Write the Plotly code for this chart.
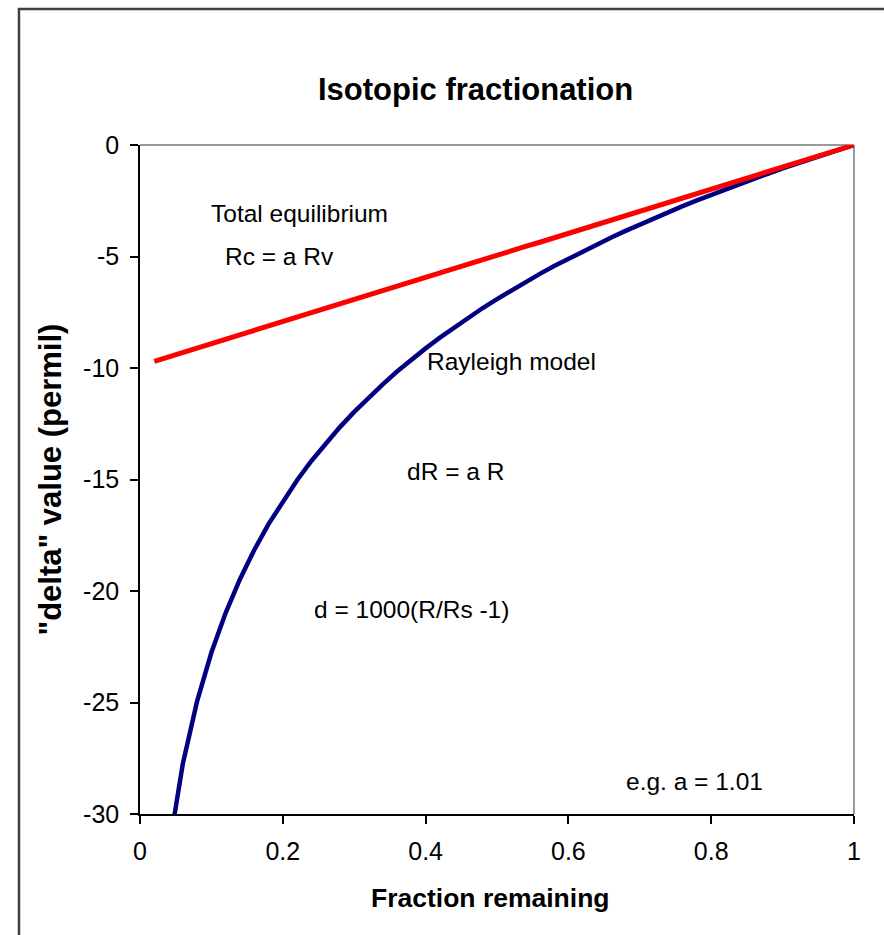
import plotly.graph_objects as go

# Fraction remaining (x) values
fraction = [0.02, 0.04, 0.06, 0.08, 0.10, 0.12, 0.14, 0.16, 0.18, 0.20,
            0.22, 0.24, 0.26, 0.28, 0.30, 0.32, 0.34, 0.36, 0.38, 0.40,
            0.42, 0.44, 0.46, 0.48, 0.50, 0.52, 0.54, 0.56, 0.58, 0.60,
            0.62, 0.64, 0.66, 0.68, 0.70, 0.72, 0.74, 0.76, 0.78, 0.80,
            0.82, 0.84, 0.86, 0.88, 0.90, 0.92, 0.94, 0.96, 0.98, 1.00]

# Rayleigh model delta values (permil)
rayleigh = [-38.36, -31.68, -27.74, -24.94, -22.76, -20.98, -19.47, -18.16, -17.00, -15.97,
            -15.03, -14.17, -13.38, -12.65, -11.97, -11.33, -10.73, -10.16, -9.63, -9.12,
            -8.64, -8.18, -7.74, -7.31, -6.91, -6.52, -6.14, -5.78, -5.43, -5.10,
            -4.77, -4.45, -4.15, -3.85, -3.56, -3.28, -3.01, -2.74, -2.48, -2.23,
            -1.98, -1.74, -1.51, -1.28, -1.05, -0.83, -0.62, -0.41, -0.20, 0.0]

# Total equilibrium delta values (permil)
equilibrium = [-9.70, -9.50, -9.31, -9.11, -8.91, -8.71, -8.51, -8.32, -8.12, -7.92,
               -7.72, -7.52, -7.33, -7.13, -6.93, -6.73, -6.53, -6.34, -6.14, -5.94,
               -5.74, -5.54, -5.35, -5.15, -4.95, -4.75, -4.55, -4.36, -4.16, -3.96,
               -3.76, -3.56, -3.37, -3.17, -2.97, -2.77, -2.57, -2.38, -2.18, -1.98,
               -1.78, -1.58, -1.39, -1.19, -0.99, -0.79, -0.59, -0.40, -0.20, 0.0]

x_ticks = [0, 0.2, 0.4, 0.6, 0.8, 1]
x_tick_labels = ["0", "0.2", "0.4", "0.6", "0.8", "1"]
y_ticks = [0, -5, -10, -15, -20, -25, -30]
y_tick_labels = ["0", "-5", "-10", "-15", "-20", "-25", "-30"]

notes = ["Total equilibrium", "Rc = a Rv", "Rayleigh model", "dR = a R",
         "d = 1000(R/Rs -1)", "e.g. a = 1.01"]
note_x = [0.2234, 0.196, 0.520, 0.442, 0.380, 0.776]
note_y = [-3.05, -4.98, -9.7, -14.64, -20.83, -28.56]

FONT = "Liberation Sans, Arial, sans-serif"

fig = go.Figure()
fig.add_trace(go.Scatter(x=fraction, y=rayleigh, mode="lines",
                         line=dict(color="#000080", width=4.5),
                         name="Rayleigh model", showlegend=False))
fig.add_trace(go.Scatter(x=fraction, y=equilibrium, mode="lines",
                         line=dict(color="#FF0000", width=5),
                         name="Total equilibrium", showlegend=False))

for t, xx, yy in zip(notes, note_x, note_y):
    fig.add_annotation(x=xx, y=yy, xref="x", yref="y", text=t, showarrow=False,
                       font=dict(family=FONT, size=24.5, color="black"),
                       xanchor="center", yanchor="middle")

# Title
fig.add_annotation(x=0.47, y=1.0837, xref="paper", yref="paper",
                   text="<b>Isotopic fractionation</b>", showarrow=False,
                   font=dict(family=FONT, size=31, color="black"),
                   xanchor="center", yanchor="middle")
# Axis titles
fig.add_annotation(x=0.4915, y=-0.1256, xref="paper", yref="paper",
                   text="<b>Fraction remaining</b>", showarrow=False,
                   font=dict(family=FONT, size=26.5, color="black"),
                   xanchor="center", yanchor="middle")
fig.add_annotation(x=-0.126, y=0.5, xref="paper", yref="paper",
                   text="<b>\"delta\" value (permil)</b>", showarrow=False,
                   textangle=-90,
                   font=dict(family=FONT, size=31, color="black"),
                   xanchor="center", yanchor="middle")

# Outer chart frame
fig.add_shape(type="rect", xref="paper", yref="paper",
              x0=-0.1695, x1=1.3, y0=-0.4, y1=1.2033,
              line=dict(color="#404040", width=2.5), layer="below")
# Top and right plot-area border (gray)
fig.add_shape(type="line", xref="paper", yref="paper", x0=0, x1=1, y0=1, y1=1,
              line=dict(color="#999999", width=2), layer="below")
fig.add_shape(type="line", xref="paper", yref="paper", x0=1, x1=1, y0=0, y1=1,
              line=dict(color="#999999", width=2), layer="below")

fig.update_layout(
    width=884, height=935,
    margin=dict(l=140, r=30, t=145, b=121),
    paper_bgcolor="white", plot_bgcolor="white",
    font=dict(family=FONT, color="black"),
    showlegend=False,
)
fig.update_xaxes(range=[0, 1], tickvals=x_ticks, ticktext=x_tick_labels,
                 showgrid=False, zeroline=False, showline=True,
                 linecolor="black", linewidth=1.5,
                 ticks="outside", ticklen=8, tickcolor="black", tickwidth=1.5,
                 tickfont=dict(family=FONT, size=25, color="black"),
                 ticklabelstandoff=6)
fig.update_yaxes(range=[-30, 0], tickvals=y_ticks, ticktext=y_tick_labels,
                 showgrid=False, zeroline=False, showline=True,
                 linecolor="black", linewidth=1.5,
                 ticks="outside", ticklen=8, tickcolor="black", tickwidth=1.5,
                 tickfont=dict(family=FONT, size=25, color="black"),
                 ticklabelstandoff=6)

fig.write_html("out.html")
